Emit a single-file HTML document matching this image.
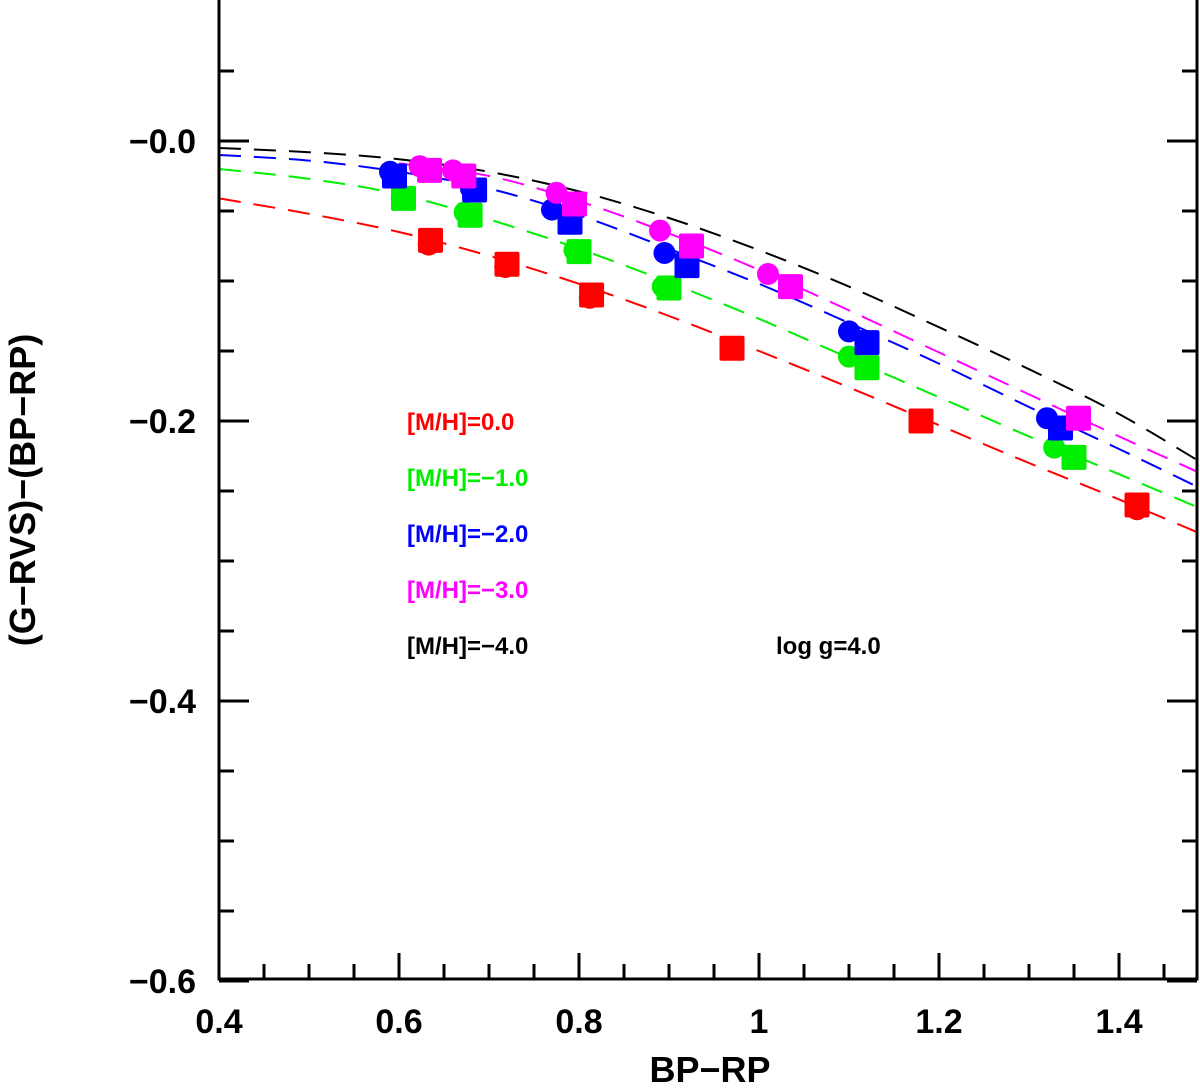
<!DOCTYPE html>
<html><head><meta charset="utf-8"><style>
body{margin:0;background:#fff;}
svg text{font-family:"Liberation Sans","DejaVu Sans",sans-serif;font-weight:bold;}
</style></head><body>
<svg id="chart" width="1200" height="1087" viewBox="0 0 1200 1087" xmlns="http://www.w3.org/2000/svg"></svg>
<script>
const xTickLabels=[0.4,0.6,0.8,1.0,1.2,1.4];
const yTickLabels=[0,-0.2,-0.4,-0.6];
const curveX=[0.4,0.5,0.6,0.7,0.8,0.9,1.0,1.1,1.2,1.3,1.4,1.5];
const curveRed=[-0.041,-0.052,-0.065,-0.082,-0.102,-0.125,-0.150,-0.176,-0.203,-0.230,-0.256,-0.283];
const curveGreen=[-0.020,-0.027,-0.038,-0.056,-0.077,-0.101,-0.127,-0.155,-0.183,-0.211,-0.238,-0.265];
const curveBlue=[-0.010,-0.014,-0.022,-0.034,-0.053,-0.077,-0.102,-0.130,-0.159,-0.190,-0.220,-0.251];
const curveMagX=[0.6,0.7,0.8,0.9,1.0,1.1,1.2,1.3,1.4,1.5];
const curveMag=[-0.016,-0.025,-0.043,-0.066,-0.092,-0.121,-0.151,-0.181,-0.211,-0.240];
const curveBlack=[-0.005,-0.008,-0.013,-0.022,-0.036,-0.055,-0.078,-0.104,-0.133,-0.163,-0.195,-0.233];
const redCircX=[0.633,0.718,0.812,0.97,1.18,1.42];
const redCircY=[-0.074,-0.090,-0.112,-0.148,-0.200,-0.263];
const redSqX=[0.635,0.72,0.814,0.97,1.18,1.42];
const redSqY=[-0.071,-0.088,-0.110,-0.148,-0.200,-0.260];
const greenCircX=[0.603,0.673,0.795,0.893,1.1,1.328];
const greenCircY=[-0.041,-0.051,-0.078,-0.104,-0.154,-0.219];
const greenSqX=[0.605,0.679,0.8,0.9,1.12,1.35];
const greenSqY=[-0.041,-0.053,-0.079,-0.105,-0.162,-0.226];
const blueCircX=[0.59,0.68,0.77,0.895,1.1,1.32];
const blueCircY=[-0.022,-0.034,-0.049,-0.080,-0.136,-0.198];
const blueSqX=[0.595,0.684,0.79,0.92,1.12,1.335];
const blueSqY=[-0.025,-0.035,-0.058,-0.089,-0.144,-0.205];
const magCircX=[0.623,0.66,0.775,0.89,1.01];
const magCircY=[-0.018,-0.021,-0.037,-0.064,-0.095];
const magSqX=[0.634,0.672,0.795,0.925,1.035,1.355];
const magSqY=[-0.021,-0.025,-0.045,-0.075,-0.104,-0.198];

const X0=219,X1=1197,Y0=979;
const xs=v=>X0+(v-0.4)*900;
function ysc(v){return 141+(-v)*1400;}
const NS="http://www.w3.org/2000/svg";
const svg=document.getElementById('chart');
function mk(t,a,p){const e=document.createElementNS(NS,t);for(const k in a)e.setAttribute(k,a[k]);(p||svg).appendChild(e);return e;}

const clip=mk('clipPath',{id:'pc'});mk('rect',{x:X0,y:0,width:X1-X0,height:Y0},clip);
function curve(xa,ya,col,name){
  let d='';
  for(let i=0;i<xa.length-1;i++){
    const p0=i>0?i-1:i,p3=i+2<xa.length?i+2:i+1;
    const P=k=>[xs(xa[k]),ysc(ya[k])];
    const a=P(p0),b=P(i),c=P(i+1),e=P(p3);
    if(i===0)d+='M'+b[0]+','+b[1];
    const c1=[b[0]+(c[0]-a[0])/6,b[1]+(c[1]-a[1])/6],c2=[c[0]-(e[0]-b[0])/6,c[1]-(e[1]-b[1])/6];
    d+='C'+c1+' '+c2+' '+c;
  }
  const el=mk('path',{d:d,fill:'none',stroke:col,'stroke-width':2,'stroke-dasharray':'22,13','clip-path':'url(#pc)'});
  
  
}
curve(curveX,curveBlack,'#000','curve-mh-4');
curve(curveMagX,curveMag,'#ff00ff','curve-mh-3');
curve(curveX,curveBlue,'#0000ff','curve-mh-2');
curve(curveX,curveGreen,'#00ee00','curve-mh-1');
curve(curveX,curveRed,'#ff0000','curve-mh-0');

function pts(cx,cy,sx,sy,col,name){
  for(let i=0;i<cx.length;i++){
    const c=mk('circle',{cx:xs(cx[i]),cy:ysc(cy[i]),r:11,fill:col});
    
    
  }
  for(let i=0;i<sx.length;i++){
    const s=mk('rect',{x:xs(sx[i])-12.5,y:ysc(sy[i])-12.5,width:25,height:25,rx:2,fill:col});
    
    
  }
}
pts(redCircX,redCircY,redSqX,redSqY,'#ff0000','point-mh0');
pts(greenCircX,greenCircY,greenSqX,greenSqY,'#00ee00','point-mh1');
pts(blueCircX,blueCircY,blueSqX,blueSqY,'#0000ff','point-mh2');
pts(magCircX,magCircY,magSqX,magSqY,'#ff00ff','point-mh3');

const fr=mk('path',{d:`M${X0},0 V${Y0} H${X1} V0`,fill:'none',stroke:'#000','stroke-width':3});


for(let k=0;k<=22;k++){
  const v=0.4+k*0.05;const x=xs(v);if(x>X1-2)continue;
  const L=(k%4===0)?26:15;
  mk('line',{x1:x,y1:Y0,x2:x,y2:Y0-L,stroke:'#000','stroke-width':3});
}
xTickLabels.forEach(v=>{
  const t=mk('text',{x:xs(v),y:1033,'font-size':34,'text-anchor':'middle'});
  t.textContent=(v===1?'1':v.toFixed(1));
  
  
});
for(let k=0;k<=14;k++){
  const v=-0.6+k*0.05;const y=ysc(v);if(y<2)continue;
  const L=(k%4===0)?30:15;
  mk('line',{x1:X0,y1:y,x2:X0+L,y2:y,stroke:'#000','stroke-width':3});
  mk('line',{x1:X1,y1:y,x2:X1-L,y2:y,stroke:'#000','stroke-width':3});
}
yTickLabels.forEach(v=>{
  const t=mk('text',{x:196,y:ysc(v)+12,'font-size':34,'text-anchor':'end'});
  t.textContent=(v===0?'\u22120.0':'\u2212'+Math.abs(v).toFixed(1));
  
  
});
const xt=mk('text',{x:710,y:1082,'font-size':36,'text-anchor':'middle'});xt.textContent='BP\u2212RP';


const yt=mk('text',{x:0,y:0,'font-size':36,'text-anchor':'middle',transform:'translate(35,490) rotate(-90)'});yt.textContent='(G\u2212RVS)\u2212(BP\u2212RP)';


const leg=[['[M/H]=0.0','#ff0000',430],['[M/H]=\u22121.0','#00ee00',486],['[M/H]=\u22122.0','#0000ff',542],['[M/H]=\u22123.0','#ff00ff',598],['[M/H]=\u22124.0','#000',654]];
leg.forEach(l=>{
  const t=mk('text',{x:407,y:l[2],'font-size':24,fill:l[1]});t.textContent=l[0];
  
  
});
const lg=mk('text',{x:776,y:654,'font-size':24});lg.textContent='log  g=4.0';


</script>
</body></html>
